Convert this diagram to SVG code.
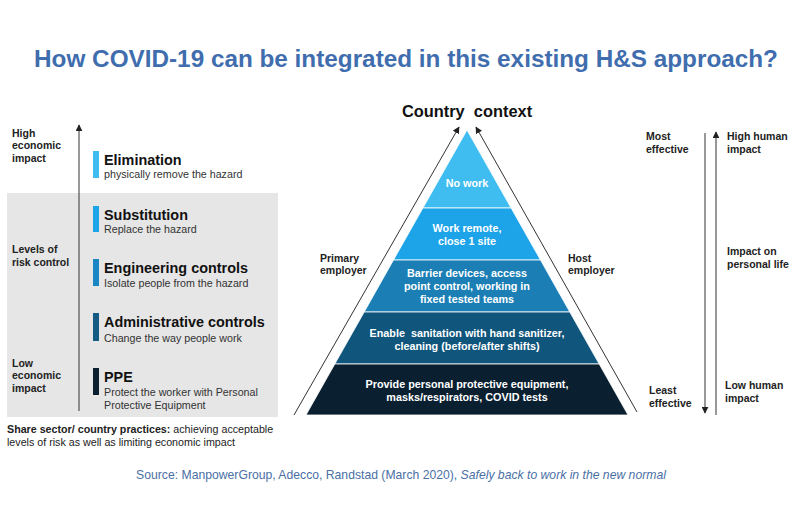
<svg xmlns="http://www.w3.org/2000/svg" width="800" height="510" viewBox="0 0 800 510">
<defs>
<marker id="ah" viewBox="0 0 10 10" refX="9" refY="5" markerWidth="7" markerHeight="7" markerUnits="userSpaceOnUse" orient="auto">
<path d="M0,0 L10,5 L0,10 z" fill="#222"/>
</marker>
</defs>
<style>
text{font-family:"Liberation Sans",Arial,sans-serif;}
.title{font-size:24.3px;font-weight:bold;fill:#3F6DAE;}
.lbl{font-size:10.5px;font-weight:bold;fill:#222;}
.h{font-size:14.4px;font-weight:bold;fill:#111;}
.sub{font-size:10.7px;fill:#333;}
.pt{font-size:10.8px;font-weight:bold;fill:#fff;text-anchor:middle;}
.ln{stroke:#333;stroke-width:1;fill:none;}
.band{stroke:#fff;stroke-width:0.8;}
.src{font-size:12.2px;fill:#4A6FA5;}
</style>
<rect width="800" height="510" fill="#fff"/>
<text class="title" x="406" y="67" text-anchor="middle">How COVID-19 can be integrated in this existing H&amp;S approach?</text>

<!-- left panel -->
<rect x="7" y="193" width="271" height="224" fill="#E6E6E6"/>
<g id="left-labels">
<text class="lbl" x="12" y="137">High</text>
<text class="lbl" x="12" y="149">economic</text>
<text class="lbl" x="12" y="162">impact</text>
<text class="lbl" x="12" y="253">Levels of</text>
<text class="lbl" x="12" y="266">risk control</text>
<text class="lbl" x="12" y="367">Low</text>
<text class="lbl" x="12" y="379">economic</text>
<text class="lbl" x="12" y="392">impact</text>
</g>
<g id="elimination">
<rect x="93" y="151" width="6" height="27" fill="#3FBDF0"/>
<text class="h" x="104" y="165">Elimination</text>
<text class="sub" x="104" y="178">physically remove the hazard</text>
</g>
<g id="substitution">
<rect x="93" y="206" width="6" height="26" fill="#1CA3E8"/>
<text class="h" x="104" y="220">Substitution</text>
<text class="sub" x="104" y="233">Replace the hazard</text>
</g>
<g id="engineering">
<rect x="93" y="259" width="6" height="27" fill="#1B86C4"/>
<text class="h" x="104" y="273">Engineering controls</text>
<text class="sub" x="104" y="287">Isolate people from the hazard</text>
</g>
<g id="administrative">
<rect x="93" y="313" width="6" height="28" fill="#155A82"/>
<text class="h" x="104" y="327">Administrative controls</text>
<text class="sub" x="104" y="342">Change the way people work</text>
</g>
<g id="ppe">
<rect x="93" y="368" width="6" height="27" fill="#0A2031"/>
<text class="h" x="104" y="382">PPE</text>
<text class="sub" x="104" y="396">Protect the worker with Personal</text>
<text class="sub" x="104" y="409">Protective Equipment</text>
</g>
<g id="share-note">
<text x="7" y="433" style="font-size:10.7px;fill:#222;"><tspan font-weight="bold">Share sector/ country practices:</tspan> achieving acceptable</text>
<text x="7" y="446" style="font-size:10.7px;fill:#222;">levels of risk as well as limiting economic impact</text>
</g>

<!-- pyramid -->
<text x="467" y="117" text-anchor="middle" style="font-size:16.4px;font-weight:bold;fill:#111;white-space:pre;">Country  context</text>
<g id="band-no-work">
<polygon class="band" points="467,130 511.1,208 422.9,208" fill="#3FBDF0"/>
<text class="pt" x="467" y="187">No work</text>
</g>
<g id="band-remote">
<polygon class="band" points="422.9,208 511.1,208 540.5,260 393.5,260" fill="#1CA3E8"/>
<text class="pt" x="467" y="232">Work remote,</text>
<text class="pt" x="467" y="245">close 1 site</text>
</g>
<g id="band-barrier">
<polygon class="band" points="393.5,260 540.5,260 569.8,312 364.2,312" fill="#1B7FB6"/>
<text class="pt" x="467" y="277">Barrier devices, access</text>
<text class="pt" x="467" y="290">point control, working in</text>
<text class="pt" x="467" y="303">fixed tested teams</text>
</g>
<g id="band-sanitation">
<polygon class="band" points="364.2,312 569.8,312 599.2,364 334.8,364" fill="#10557C"/>
<text class="pt" x="467" y="337" style="white-space:pre;">Enable  sanitation with hand sanitizer,</text>
<text class="pt" x="467" y="350">cleaning (before/after shifts)</text>
</g>
<g id="band-ppe">
<polygon class="band" points="334.8,364 599.2,364 628,415 306,415" fill="#0A2031"/>
<text class="pt" x="467" y="388">Provide personal protective equipment,</text>
<text class="pt" x="467" y="401">masks/respirators, COVID tests</text>
</g>
<g id="primary-employer">
<text class="lbl" x="320" y="262">Primary</text>
<text class="lbl" x="320" y="274">employer</text>
</g>
<g id="host-employer">
<text class="lbl" x="568" y="262">Host</text>
<text class="lbl" x="568" y="274">employer</text>
</g>

<!-- right labels -->
<g id="right-labels">
<text class="lbl" x="646" y="140">Most</text>
<text class="lbl" x="646" y="153">effective</text>
<text class="lbl" x="649" y="394">Least</text>
<text class="lbl" x="649" y="407">effective</text>
<text class="lbl" x="727" y="140">High human</text>
<text class="lbl" x="727" y="153">impact</text>
<text class="lbl" x="727" y="255">Impact on</text>
<text class="lbl" x="727" y="268">personal life</text>
<text class="lbl" x="725" y="389">Low human</text>
<text class="lbl" x="725" y="402">impact</text>
</g>

<g id="connectors">
<line class="ln" x1="79" y1="411" x2="79" y2="125" marker-end="url(#ah)"/>
<line class="ln" x1="294" y1="415" x2="459" y2="127" marker-end="url(#ah)"/>
<line class="ln" x1="637" y1="412" x2="476" y2="127" marker-end="url(#ah)"/>
<line class="ln" x1="705" y1="133" x2="705" y2="413" marker-end="url(#ah)"/>
<line class="ln" x1="716" y1="415" x2="716" y2="132" marker-end="url(#ah)"/>
</g>

<text class="src" x="401" y="479" text-anchor="middle">Source: ManpowerGroup, Adecco, Randstad (March 2020), <tspan font-style="italic">Safely back to work in the new normal</tspan></text>
</svg>
